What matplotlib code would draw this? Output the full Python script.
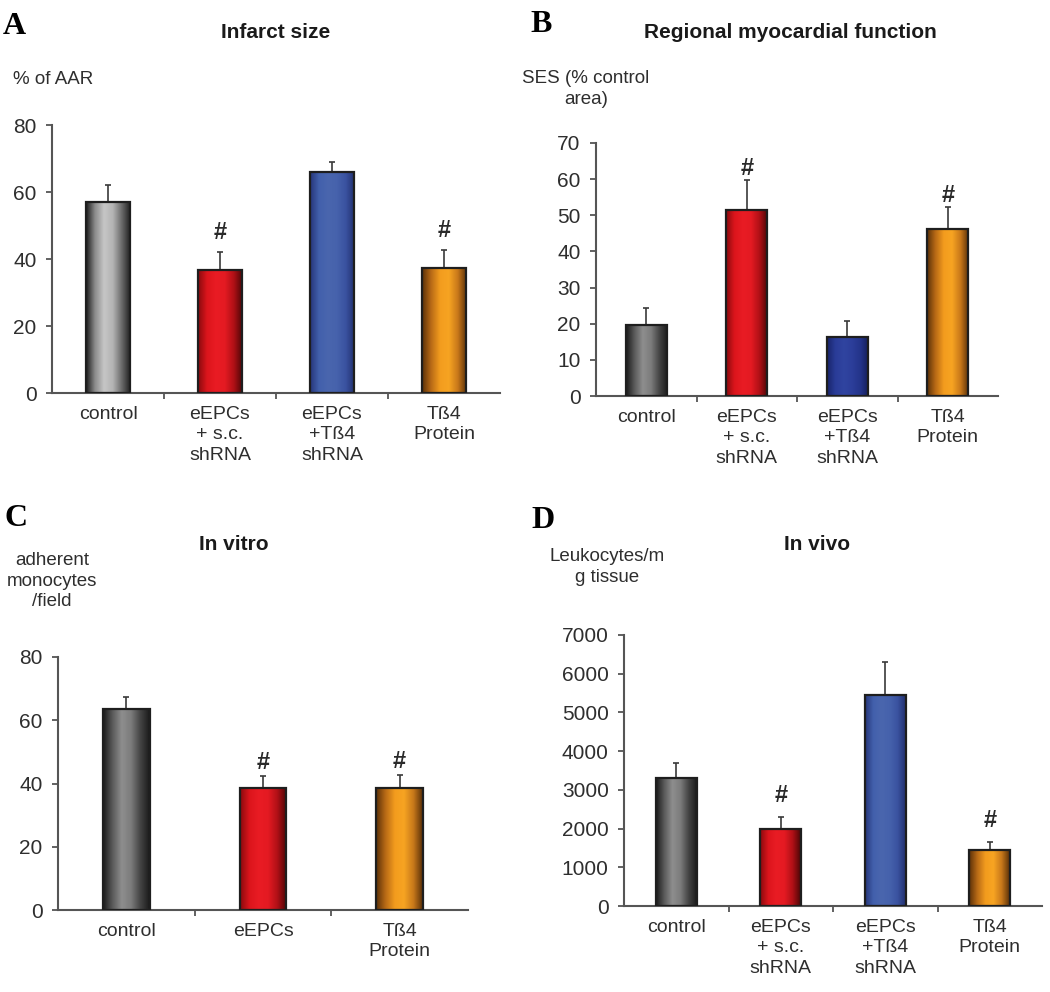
"""Four bar panels (A-D): infarct size, regional function, monocyte adhesion, leukocytes."""

import numpy as np
import matplotlib
matplotlib.use("Agg")
import matplotlib.pyplot as plt
from matplotlib.colors import LinearSegmentedColormap

W, H = 1050, 992

# ---- data ----
labels4 = ["control", "eEPCs\n+ s.c.\nshRNA", "eEPCs\n+Tß4\nshRNA", "Tß4\nProtein"]
labels3 = ["control", "eEPCs", "Tß4\nProtein"]

infarct = [57, 36.7, 66, 37.3]
infarct_err = [5, 5.3, 3, 5.4]
infarct_sig = [False, True, False, True]

ses = [19.6, 51.5, 16.4, 46.2]
ses_err = [4.7, 8.3, 4.4, 6.1]
ses_sig = [False, True, False, True]

monocytes = [63.6, 38.6, 38.6]
monocytes_err = [3.8, 3.8, 4.1]
monocytes_sig = [False, True, True]

leukocytes = [3310, 1990, 5450, 1450]
leukocytes_err = [390, 310, 850, 210]
leukocytes_sig = [False, True, False, True]

# ---- bar shading ----
GREY_LIGHT = ["#1c1c1c", "#8c8c8c", "#c6c6c6", "#b4b4b4", "#6a6a6a", "#1c1c1c"]
GREY_DARK = ["#1a1a1a", "#5a5a5a", "#8e8e8e", "#7c7c7c", "#444444", "#1a1a1a"]
RED = ["#8a0a0e", "#dc151c", "#e91c24", "#e41a22", "#b01016", "#4a0606"]
BLUE = ["#26367a", "#4260ac", "#4a66ae", "#4662ac", "#3a52a0", "#22306e"]
BLUE_DARK = ["#18246a", "#2a3c98", "#3044a0", "#2c3e9a", "#24348a", "#141e5a"]
ORANGE = ["#5a3008", "#b86a16", "#f39c1e", "#f7a422", "#c8781a", "#5a3008"]

TXT = "#2e2e2e"


def ax_rect(left, right, bottom, top):
    return [left / W, 1 - bottom / H, (right - left) / W, (bottom - top) / H]


def shade_bar(ax, bar, stops):
    x0, y0 = bar.get_x(), bar.get_y()
    w, h = bar.get_width(), bar.get_height()
    cmap = LinearSegmentedColormap.from_list("g", stops)
    grad = np.linspace(0, 1, 128).reshape(1, -1)
    im = ax.imshow(grad, cmap=cmap, aspect="auto", interpolation="bilinear",
                   extent=(x0, x0 + w, y0, y0 + h), zorder=2)
    im.set_clip_path(bar)


def panel(rect, values, errs, sig, labels, shades, ymax, ystep, width, sig_off):
    ax = fig.add_axes(rect)
    x = np.arange(len(values))
    bars = ax.bar(x, values, width, facecolor="none", edgecolor="#1e1e1e",
                  linewidth=1.6, zorder=3)
    for b, s in zip(bars, shades):
        shade_bar(ax, b, s)
    ax.errorbar(x, values, yerr=[np.zeros(len(values)), errs], fmt="none",
                ecolor="#3a3a3a", elinewidth=1.2, capsize=2, capthick=1.2, zorder=2.5)
    for xi, v, e, s in zip(x, values, errs, sig):
        if s:
            ax.text(xi, v + e + sig_off, "#", ha="center", va="bottom",
                    fontsize=17, fontweight="bold", color="#2a2a2a")
    ax.set_xlim(-0.5, len(values) - 0.5)
    ax.set_ylim(0, ymax)
    ax.set_yticks(np.arange(0, ymax + 1, ystep))
    ax.set_xticks(x)
    ax.set_xticklabels(labels, fontsize=14, color=TXT, linespacing=1.3)
    ax.set_xticks(np.arange(0.5, len(values) - 0.5, 1), minor=True)
    ax.tick_params(axis="x", which="major", length=0, pad=9)
    ax.tick_params(axis="x", which="minor", length=4, width=1.3, direction="out",
                   color="#555555")
    ax.tick_params(axis="y", length=4, width=1.3, direction="out", color="#555555",
                   labelsize=15, labelcolor=TXT, pad=7)
    for sp in ["top", "right"]:
        ax.spines[sp].set_visible(False)
    for sp in ["left", "bottom"]:
        ax.spines[sp].set_color("#555555")
        ax.spines[sp].set_linewidth(1.5)
    return ax


plt.rcParams["font.family"] = ["Liberation Sans", "DejaVu Sans"]
fig = plt.figure(figsize=(W / 100, H / 100), dpi=100)

# A
panel(ax_rect(52, 500, 393, 125), infarct, infarct_err, infarct_sig, labels4,
      [GREY_LIGHT, RED, BLUE, ORANGE], 80, 20, 0.4, 2.5)
# B
panel(ax_rect(596, 998, 396, 143), ses, ses_err, ses_sig, labels4,
      [GREY_DARK, RED, BLUE_DARK, ORANGE], 70, 10, 0.41, 0.0)
# C
panel(ax_rect(58, 468, 910, 657), monocytes, monocytes_err, monocytes_sig, labels3,
      [GREY_DARK, RED, ORANGE], 80, 20, 0.34, 0.5)
# D
panel(ax_rect(624, 1042, 906, 635), leukocytes, leukocytes_err, leukocytes_sig, labels4,
      [GREY_DARK, RED, BLUE, ORANGE], 7000, 1000, 0.39, 250)

# panel letters
for s, px, py in [("A", 3, 27), ("B", 530, 25), ("C", 4, 519), ("D", 531, 521)]:
    fig.text(px / W, 1 - py / H, s, family="Liberation Serif", weight="bold",
             fontsize=23, va="center", ha="left")

# titles
for s, px, py in [("Infarct size", 276, 32), ("Regional myocardial function", 790, 32),
                  ("In vitro", 234, 544), ("In vivo", 817, 544)]:
    fig.text(px / W, 1 - py / H, s, weight="bold", fontsize=15, ha="center",
             va="center", color="#1a1a1a")

# y labels
fig.text(13 / W, 1 - 79 / H, "% of AAR", fontsize=13.5, ha="left", va="center", color=TXT)
fig.text(586 / W, 1 - 89 / H, "SES (% control\narea)", fontsize=13.5, ha="center",
         va="center", color=TXT, linespacing=1.25)
fig.text(52 / W, 1 - 581 / H, "adherent\nmonocytes\n/field", fontsize=13.5, ha="center",
         va="center", color=TXT, linespacing=1.25)
fig.text(607 / W, 1 - 567 / H, "Leukocytes/m\ng tissue", fontsize=13.5, ha="center",
         va="center", color=TXT, linespacing=1.25)

fig.savefig("out.png", dpi=100, facecolor="white")
